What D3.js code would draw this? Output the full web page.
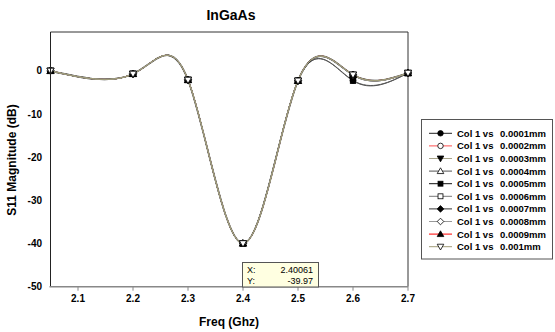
<!DOCTYPE html>
<html><head><meta charset="utf-8">
<script src="https://cdn.jsdelivr.net/npm/d3@7"></script>
<style>body{margin:0;background:#fff}svg{display:block;font-family:Arial,"Liberation Sans",sans-serif}</style>
</head><body><svg id="c" width="555" height="332"></svg>
<script>
const freqs = [2.05, 2.2, 2.3, 2.4, 2.5, 2.6, 2.7];
const seriesNames = ["0.0001mm","0.0002mm","0.0003mm","0.0004mm","0.0005mm","0.0006mm","0.0007mm","0.0008mm","0.0009mm","0.001mm"];
const s0001 = [0, -0.7, -2.1, -39.97, -2.3, -2.2, -0.5];
const s0002 = [0, -0.7, -2.1, -39.97, -2.3, -0.9, -0.5];
const s0003 = [0, -0.7, -2.1, -39.97, -2.3, -0.9, -0.5];
const s0004 = [0, -0.7, -2.1, -39.97, -2.3, -1.0, -0.5];
const s0005 = [0, -0.7, -2.1, -39.97, -2.3, -2.3, -0.5];
const s0006 = [0, -0.7, -2.1, -39.97, -2.3, -1.0, -0.5];
const s0007 = [0, -0.7, -2.1, -39.97, -2.3, -0.9, -0.5];
const s0008 = [0, -0.7, -2.1, -39.97, -2.3, -1.0, -0.5];
const s0009 = [0, -0.7, -2.1, -39.97, -2.3, -0.9, -0.5];
const s001  = [0, -0.7, -2.1, -39.97, -2.3, -0.9, -0.5];
const seriesValues = [s0001,s0002,s0003,s0004,s0005,s0006,s0007,s0008,s0009,s001];
const xTicks = [2.1, 2.2, 2.3, 2.4, 2.5, 2.6, 2.7];
const yTicks = [0, -10, -20, -30, -40, -50];
const lineColors = ["#222","#ff5050","#a8a48a","#555","#111","#777","#333","#999","#ff0000","#a09c78"];
const markerTypes = ["circle","circleOpen","triDownFill","triUpOpen","squareFill","squareOpen","diamondFill","diamondOpen","triUpFill","triDownOpen"];
const tipX = "2.40061", tipY = "-39.97";

const svg = d3.select("#c");
const L = 50.5, R = 408, T = 32, B = 286.7;
const x = d3.scaleLinear().domain([2.05, 2.7]).range([L, R]);
const y = d3.scaleLinear().domain([-50, 9]).range([B, T]);

svg.append("text").attr("x", 231).attr("y", 20).attr("text-anchor","middle")
  .attr("font-size", 14).attr("font-weight","bold").text("InGaAs");

svg.append("path").attr("d", `M${L},${T}H${R}V${B}`).attr("fill","none").attr("stroke","#333").attr("stroke-width",1);

const line = d3.line().x((d,i)=>x(freqs[i])).y(d=>y(d)).curve(d3.curveNatural);
const order = [1,8,0,4,6,3,5,7,2,9];
const g = svg.append("g");
order.forEach(k=>{
  const w = (k===6) ? 1.6 : 1;
  g.append("path").attr("d", line(seriesValues[k])).attr("fill","none")
   .attr("stroke", (k===0||k===4) ? "#555" : lineColors[k]).attr("stroke-width",w);
});

function marker(sel, type, cx, cy, s){
  const filled = !/Open/.test(type);
  const fill = filled ? "#000" : "#fff";
  let el;
  if (type.startsWith("circle")) el = sel.append("circle").attr("cx",cx).attr("cy",cy).attr("r",s*0.5);
  else if (type.startsWith("square")) el = sel.append("rect").attr("x",cx-s*0.45).attr("y",cy-s*0.45).attr("width",s*0.9).attr("height",s*0.9);
  else if (type.startsWith("diamond")) el = sel.append("path").attr("d",`M${cx},${cy-s*0.6}L${cx+s*0.6},${cy}L${cx},${cy+s*0.6}L${cx-s*0.6},${cy}Z`);
  else if (type.startsWith("triUp")) el = sel.append("path").attr("d",`M${cx},${cy-s*0.6}L${cx+s*0.6},${cy+s*0.45}L${cx-s*0.6},${cy+s*0.45}Z`);
  else el = sel.append("path").attr("d",`M${cx},${cy+s*0.6}L${cx+s*0.6},${cy-s*0.45}L${cx-s*0.6},${cy-s*0.45}Z`);
  el.attr("fill",fill).attr("stroke","#000").attr("stroke-width",0.8);
}
const mg = svg.append("g");
seriesValues.forEach((vals,k)=>{
  vals.forEach((v,i)=> marker(mg, markerTypes[k], x(freqs[i]), y(v), 6));
});

svg.append("line").attr("x1",L).attr("x2",L).attr("y1",T).attr("y2",B).attr("stroke","#222");
yTicks.forEach(t=>{
  svg.append("text").attr("x",42).attr("y",y(t)+3.5).attr("text-anchor","end")
   .attr("font-size",10).attr("font-weight","bold").text(t);
});
svg.append("line").attr("x1",L-1).attr("x2",R).attr("y1",B).attr("y2",B).attr("stroke","#888").attr("stroke-width",1.5);
xTicks.forEach(t=>{
  svg.append("line").attr("x1",x(t)).attr("x2",x(t)).attr("y1",B).attr("y2",B+4).attr("stroke","#888");
  svg.append("text").attr("x",x(t)).attr("y",302).attr("text-anchor","middle")
   .attr("font-size",10).attr("font-weight","bold").text(d3.format(".1f")(t));
});
svg.append("text").attr("x",229).attr("y",326).attr("text-anchor","middle")
  .attr("font-size",12).attr("font-weight","bold").text("Freq (Ghz)");
svg.append("text").attr("transform","translate(16,160) rotate(-90)").attr("text-anchor","middle")
  .attr("font-size",12).attr("font-weight","bold").text("S11 Magnitude (dB)");

const tx = x(2.4), ty = 262.5;
svg.append("rect").attr("x",tx-0.5).attr("y",ty).attr("width",76).attr("height",24.5)
  .attr("fill","#ffffe1").attr("stroke","#555");
svg.append("text").attr("x",tx+4).attr("y",ty+10).attr("font-size",9).text("X:");
svg.append("text").attr("x",tx+4).attr("y",ty+21).attr("font-size",9).text("Y:");
svg.append("text").attr("x",tx+70).attr("y",ty+10).attr("font-size",9).attr("text-anchor","end").text(tipX);
svg.append("text").attr("x",tx+70).attr("y",ty+21).attr("font-size",9).attr("text-anchor","end").text(tipY);

svg.append("rect").attr("x",421.5).attr("y",119.5).attr("width",131).attr("height",139.5)
  .attr("fill","#fff").attr("stroke","#555");
seriesNames.forEach((n,k)=>{
  const ly = 133.3 + k*12.6;
  svg.append("line").attr("x1",429).attr("x2",452).attr("y1",ly).attr("y2",ly).attr("stroke",lineColors[k]);
  marker(svg, markerTypes[k], 440.5, ly, 5.5);
  svg.append("text").attr("x",457).attr("y",ly+3.5).attr("font-size",9.5).attr("font-weight","bold").text("Col 1 vs");
  svg.append("text").attr("x",500).attr("y",ly+3.5).attr("font-size",9.5).attr("font-weight","bold").text(n);
});
</script></body></html>
